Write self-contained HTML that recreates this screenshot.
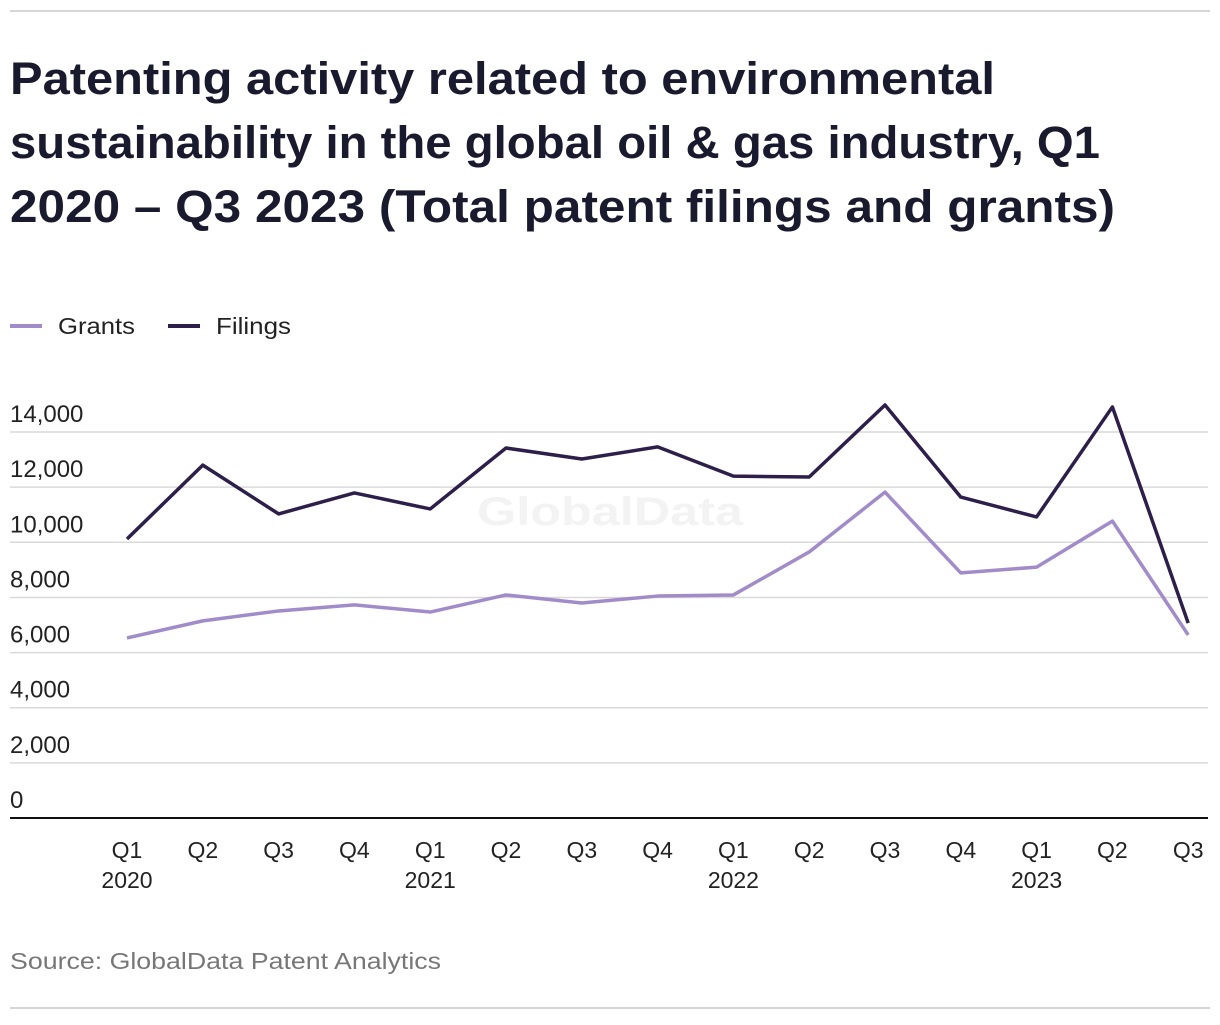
<!DOCTYPE html>
<html><head><meta charset="utf-8"><style>
body{margin:0;background:#fff;width:1220px;height:1020px;overflow:hidden;font-family:"Liberation Sans",sans-serif}
</style></head><body>
<svg width="1220" height="1020" xmlns="http://www.w3.org/2000/svg">
<line x1="10" y1="11" x2="1210" y2="11" stroke="#d6d6d6" stroke-width="2"/>
<line x1="10" y1="1008" x2="1210" y2="1008" stroke="#d6d6d6" stroke-width="2"/>
<g font-weight="bold" font-size="45" fill="#1a1a2e">
<text x="10" y="94" textLength="985" lengthAdjust="spacingAndGlyphs">Patenting activity related to environmental</text>
<text x="10" y="158" textLength="1090" lengthAdjust="spacingAndGlyphs">sustainability in the global oil &amp; gas industry, Q1</text>
<text x="10" y="222" textLength="1105" lengthAdjust="spacingAndGlyphs">2020 – Q3 2023 (Total patent filings and grants)</text>
</g>
<g font-size="23" fill="#222">
<line x1="10" y1="326" x2="42" y2="326" stroke="#a28bc9" stroke-width="4"/>
<text x="58" y="334" textLength="77" lengthAdjust="spacingAndGlyphs">Grants</text>
<line x1="168" y1="326" x2="200" y2="326" stroke="#2d1e4a" stroke-width="4"/>
<text x="216" y="334" textLength="75" lengthAdjust="spacingAndGlyphs">Filings</text>
</g>
<text x="477" y="525" font-size="40" font-weight="bold" fill="#f3f3f3" textLength="266" lengthAdjust="spacingAndGlyphs">GlobalData</text>
<g id="grid"></g><g id="xl"></g><g id="lines"></g>
<text x="10" y="969" font-size="23" fill="#777" textLength="431" lengthAdjust="spacingAndGlyphs">Source: GlobalData Patent Analytics</text>
</svg>
<script>
const quarters=["Q1","Q2","Q3","Q4","Q1","Q2","Q3","Q4","Q1","Q2","Q3","Q4","Q1","Q2","Q3"];
const years=["2020","","","","2021","","","","2022","","","","2023","",""];
const filings=[10120,12800,11030,11790,11210,13420,13020,13460,12400,12370,14980,11640,10920,14910,7070];
const grants=[6530,7150,7510,7730,7470,8090,7800,8050,8090,9650,11820,8890,9100,10770,6640];
const yTicks=[0,2000,4000,6000,8000,10000,12000,14000];
const NS="http://www.w3.org/2000/svg";
const y=v=>818-v*0.02757;
const x=i=>127+i*75.8;
function mk(t,a,p){const e=document.createElementNS(NS,t);for(const k in a)e.setAttribute(k,a[k]);p.appendChild(e);return e;}
const g=document.getElementById('grid');
yTicks.forEach(v=>{
 const l=mk('line',{x1:10,x2:1208,y1:y(v),y2:y(v),stroke:v?'#d9d9d9':'#111','stroke-width':v?1.5:2},g);
 
 
 const t=mk('text',{x:10,y:y(v)-10,'font-size':24,fill:'#222'},g);t.textContent=v.toLocaleString('en-US');
 
 
});
const xl=document.getElementById('xl');
quarters.forEach((q,i)=>{
 const t=mk('text',{x:x(i),y:858,'font-size':23,fill:'#222','text-anchor':'middle'},xl);t.textContent=q;
 
 
 if(years[i]){const u=mk('text',{x:x(i),y:888,'font-size':23,fill:'#222','text-anchor':'middle'},xl);u.textContent=years[i];
 
 }
});
const L=document.getElementById('lines');
[[grants,'#a28bc9','grants-line'],[filings,'#2d1e4a','filings-line']].forEach(([d,c,n])=>{
 const p=mk('polyline',{points:d.map((v,i)=>x(i)+','+y(v)).join(' '),fill:'none',stroke:c,'stroke-width':3.5,'stroke-linejoin':'round'},L);
 
 
});
</script>
</body></html>
